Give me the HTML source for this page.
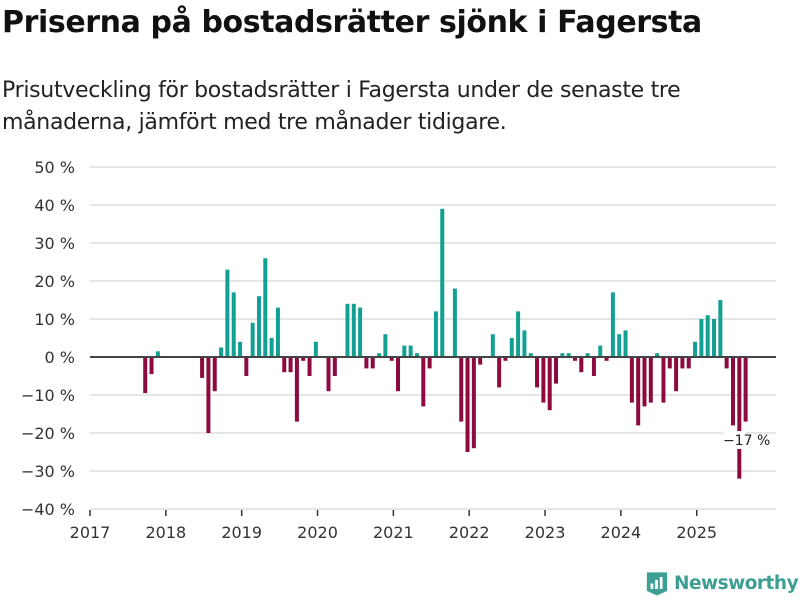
<!DOCTYPE html>
<html><head><meta charset="utf-8"><style>
body{margin:0;width:800px;height:600px;background:#fff;font-family:"Liberation Sans","DejaVu Sans",sans-serif;overflow:hidden;position:relative}
.t{position:absolute;left:2px;top:5px;font-size:30px;font-weight:bold;color:#111;font-family:"DejaVu Sans","Liberation Sans",sans-serif;letter-spacing:-0.4px}
.s{position:absolute;left:2px;top:75px;font-size:22px;line-height:32px;color:#222;font-family:"DejaVu Sans","Liberation Sans",sans-serif;letter-spacing:-0.3px}
svg{position:absolute;left:0;top:0}
</style></head><body>
<div class="t">Priserna på bostadsrätter sjönk i Fagersta</div>
<div class="s">Prisutveckling för bostadsrätter i Fagersta under de senaste tre<br>månaderna, jämfört med tre månader tidigare.</div>
<svg id="c" width="800" height="600"></svg>
<script>
const yTicks=[50,40,30,20,10,0,-10,-20,-30,-40];
const yLabels=["50 %","40 %","30 %","20 %","10 %","0 %","−10 %","−20 %","−30 %","−40 %"];
const years=["2017","2018","2019","2020","2021","2022","2023","2024","2025"];
const values=[null,null,null,null,null,null,null,null,-9.5,-4.5,1.5,null,null,null,null,null,null,-5.5,-20,-9,2.5,23,17,4,-5,9,16,26,5,13,-4,-4,-17,-1,-5,4,null,-9,-5,null,14,14,13,-3,-3,1,6,-1,-9,3,3,1,-13,-3,12,39,null,18,-17,-25,-24,-2,null,6,-8,-1,5,12,7,1,-8,-12,-14,-7,1,1,-1,-4,1,-5,3,-1,17,6,7,-12,-18,-13,-12,1,-12,-3,-9,-3,-3,4,10,11,10,15,-3,-18,-32,-17];
const NS="http://www.w3.org/2000/svg";
const svg=document.getElementById('c');
const y=v=>357-v*3.8;
const x=i=>91.5+(i+0.5)*6.32;
function mk(t,a,txt){const e=document.createElementNS(NS,t);for(const k in a)e.setAttribute(k,a[k]);if(txt!=null)e.textContent=txt;svg.appendChild(e);return e;}
yTicks.forEach((v,i)=>{
 if(v!==0){const g=mk('line',{x1:90,x2:776,y1:y(v),y2:y(v),stroke:'#ddd','stroke-width':1.5});
 
 }
 const t=mk('text',{x:75,y:y(v)+6,'text-anchor':'end','font-size':16,fill:'#333','font-family':'DejaVu Sans, sans-serif'},yLabels[i]);
 
 
});
years.forEach((yr,i)=>{
 const xx=90+i*12*6.32;
 const l=mk('line',{x1:xx,x2:xx,y1:510,y2:516,stroke:'#333','stroke-width':1.5});
 
 
 const t=mk('text',{x:xx,y:538,'text-anchor':'middle','font-size':16,fill:'#333','font-family':'DejaVu Sans, sans-serif'},yr);
 
 
});
const li=values.length-1;
values.forEach((v,i)=>{
 if(v===null)return;
 const r=mk('rect',{x:x(i)-2,y:Math.min(y(v),y(0)),width:4,height:Math.abs(y(v)-y(0)),fill:v>=0?'#12a093':'#8c0a3e'});
 
 
});
const z=mk('line',{x1:90,x2:776,y1:y(0),y2:y(0),stroke:'#444','stroke-width':2});


const bg=mk('rect',{x:x(li)-22,y:431,width:22,height:18,fill:'#fff'});


const lab=mk('text',{x:x(li)+1,y:445,'text-anchor':'middle','font-size':14,fill:'#222','font-family':'DejaVu Sans, sans-serif'},(values[li]<0?'−':'')+Math.abs(values[li])+' %');


</script>
<div style="position:absolute;left:645px;top:570px;display:flex;align-items:center">
<svg width="24" height="27" style="position:static" viewBox="0 0 26 28"><path d="M2 2h22v20l-11 5-11-5z" fill="#3d9f93"/><rect x="6" y="14" width="3" height="6" fill="#fff"/><rect x="11" y="10" width="3" height="10" fill="#fff"/><rect x="16" y="7" width="3" height="13" fill="#fff"/></svg>
<span style="font-size:18.5px;font-weight:bold;color:#3d9f93;margin-left:5px;font-family:'DejaVu Sans',sans-serif;letter-spacing:-0.5px">Newsworthy</span></div>
</body></html>
